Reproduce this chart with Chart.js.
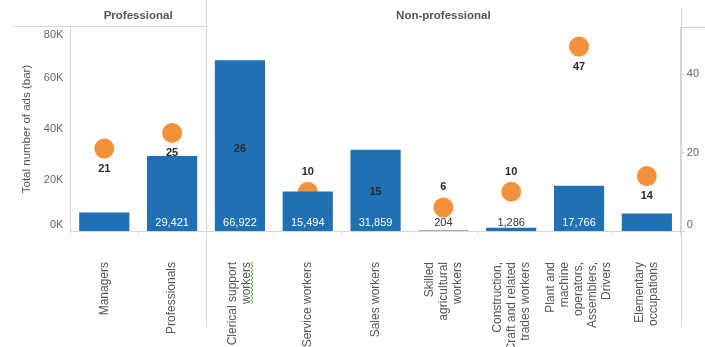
<!DOCTYPE html>
<html>
<head>
<meta charset="utf-8">
<style>
  html, body { margin: 0; padding: 0; background: #fff; }
  #chart { display: block; }
</style>
<script src="https://cdn.jsdelivr.net/npm/chart.js@4.4.0/dist/chart.umd.min.js"></script>
</head>
<body>
<canvas id="chart" width="705" height="347"></canvas>
<script>
// Occupation categories, one array entry per label line
const categories = [
    ['Managers'],
    ['Professionals'],
    ['Clerical support', 'workers'],
    ['Service workers'],
    ['Sales workers'],
    ['Skilled', 'agricultural', 'workers'],
    ['Construction,', 'Craft and related', 'trades workers'],
    ['Plant and', 'machine', 'operators,', 'Assemblers,', 'Drivers'],
    ['Elementary', 'occupations']
];

// Column groups shown in the header
const groupNames = ['Professional', 'Non-professional'];
const groupSizes = [2, 7];

// Total number of ads (bars, left axis)
const adCounts = [7300, 29421, 66922, 15494, 31859, 204, 1286, 17766, 6900];

// Circle values (right axis)
const dotValues = [21, 25, 26, 10, 15, 6, 10, 47, 14];

// Axis ticks
const leftTicks = [0, 20000, 40000, 60000, 80000];
const rightTicks = [0, 20, 40];

const FONT = '"Liberation Sans", Arial, sans-serif';
const BLUE = '#1f70b5';
const ORANGE = '#f5913a';
const LINE = '#d6d6d6';

// Label placement tweaks
const unlabeledBars = [0, 8];
const dotLabelsAbove = [3, 5, 6];

Chart.defaults.font.family = FONT;

function formatCount(v) {
    return new Intl.NumberFormat('en-US').format(v);
}

// Frame lines and group headers
const framePlugin = {
    id: 'frame',
    beforeDraw(chart) {
        const { ctx, chartArea: a, scales: { x } } = chart;
        ctx.save();
        ctx.strokeStyle = LINE;
        ctx.lineWidth = 1;

        let start = 0;
        groupNames.forEach((name, g) => {
            const left = x.getPixelForValue(start - 0.5);
            const right = x.getPixelForValue(start + groupSizes[g] - 0.5);

            ctx.fillStyle = '#555';
            ctx.font = 'bold 11.5px ' + FONT;
            ctx.textAlign = 'center';
            ctx.textBaseline = 'middle';
            ctx.fillText(name, (left + right) / 2, 16);

            if (g < groupNames.length - 1) {
                const sx = Math.round(right) + 0.5;
                ctx.beginPath();
                ctx.moveTo(sx, 0);
                ctx.lineTo(sx, 327);
                ctx.stroke();
            }
            if (g === 0) {
                ctx.beginPath();
                ctx.moveTo(13, 26.5);
                ctx.lineTo(right, 26.5);
                ctx.stroke();
            }
            start += groupSizes[g];
        });

        // right edge of the pane
        const rx = Math.round(a.right) + 0.5;
        ctx.beginPath();
        ctx.moveTo(rx, 8);
        ctx.lineTo(rx, 327);
        ctx.moveTo(rx, 27.5);
        ctx.lineTo(chart.width, 27.5);
        ctx.stroke();
        ctx.restore();
    }
};

// Value labels for bars and circles, axis labels, rotated category labels
const labelPlugin = {
    id: 'labels',
    afterDatasetsDraw(chart) {
        const { ctx, scales: { x, y, y1 } } = chart;
        const base = y.getPixelForValue(0);
        ctx.save();
        ctx.textAlign = 'center';
        ctx.textBaseline = 'middle';

        // bar totals sit at the bottom of each bar
        ctx.font = '11px ' + FONT;
        adCounts.forEach((v, i) => {
            if (unlabeledBars.includes(i)) return;
            const h = base - y.getPixelForValue(v);
            ctx.fillStyle = h > 14 ? '#ffffff' : '#333333';
            ctx.fillText(formatCount(v), x.getPixelForValue(i), base - 8);
        });

        // circle values above or below the mark
        ctx.font = 'bold 11px ' + FONT;
        ctx.fillStyle = '#2a2a2a';
        dotValues.forEach((v, i) => {
            const py = y1.getPixelForValue(v);
            const dy = dotLabelsAbove.includes(i) ? -20 : 20;
            ctx.fillText(String(v), x.getPixelForValue(i), py + dy);
        });
        ctx.restore();
    },
    afterDraw(chart) {
        const { ctx, chartArea: a, scales: { x, y, y1 } } = chart;
        ctx.save();

        // axis tick labels, kept inside the pane at both ends
        ctx.font = '11px ' + FONT;
        ctx.fillStyle = '#666';
        ctx.textBaseline = 'middle';
        const clampY = py => Math.min(Math.max(py, a.top + 8), a.bottom - 6);
        ctx.textAlign = 'right';
        y.ticks.forEach(t => {
            ctx.fillText((t.value / 1000) + 'K', a.left - 7, clampY(y.getPixelForValue(t.value)));
        });
        ctx.textAlign = 'left';
        y1.ticks.forEach(t => {
            ctx.fillText(String(t.value), a.right + 6, clampY(y1.getPixelForValue(t.value)));
        });

        // category labels, read bottom to top
        const top = a.bottom + 31;
        const lineH = 14;
        ctx.font = '12px ' + FONT;
        ctx.fillStyle = '#555';
        ctx.textAlign = 'right';
        chart.data.labels.forEach((lines, i) => {
            ctx.save();
            ctx.translate(x.getPixelForValue(i), top);
            ctx.rotate(-Math.PI / 2);
            lines.forEach((line, j) => {
                const ly = (j - (lines.length - 1) / 2) * lineH;
                ctx.fillText(line, 0, ly);
                // spell-check squiggle under "workers" of the clerical label
                if (i === 2 && j === 1) {
                    const w = ctx.measureText(line).width;
                    ctx.strokeStyle = '#4caf50';
                    ctx.lineWidth = 1;
                    ctx.beginPath();
                    for (let k = 0; k <= w; k += 2) {
                        const sy = ly + 5 + ((k / 2) % 2 ? 1.2 : -1.2);
                        if (k === 0) ctx.moveTo(-w + k, sy);
                        else ctx.lineTo(-w + k, sy);
                    }
                    ctx.stroke();
                }
            });
            ctx.restore();
        });
        ctx.restore();
    }
};

new Chart(document.getElementById('chart'), {
    data: {
        labels: categories,
        datasets: [
            {
                type: 'bar',
                label: 'Total number of ads',
                data: adCounts,
                backgroundColor: BLUE,
                borderWidth: 0,
                barPercentage: 0.74,
                categoryPercentage: 1,
                yAxisID: 'y',
                order: 0
            },
            {
                type: 'line',
                label: 'Value',
                data: dotValues,
                showLine: false,
                pointRadius: 10,
                pointBackgroundColor: ORANGE,
                pointBorderWidth: 0,
                yAxisID: 'y1',
                order: 1
            }
        ]
    },
    options: {
        responsive: false,
        animation: false,
        layout: {
            padding: { top: 27, left: 14, right: 4, bottom: 111 }
        },
        plugins: {
            legend: { display: false },
            tooltip: { enabled: false }
        },
        scales: {
            x: {
                offset: true,
                grid: {
                    offset: true,
                    drawOnChartArea: false,
                    tickLength: 5,
                    color: '#e2e2e2'
                },
                border: { color: LINE },
                ticks: { display: false }
            },
            y: {
                position: 'left',
                min: 0,
                max: 80000,
                afterBuildTicks: axis => {
                    axis.ticks = leftTicks.map(v => ({ value: v }));
                },
                grid: { display: false, drawTicks: false },
                border: { display: true, color: LINE },
                ticks: {
                    color: 'rgba(0,0,0,0)',
                    font: { size: 11 },
                    padding: 7,
                    callback: v => (v / 1000) + 'K'
                },
                title: {
                    display: true,
                    text: 'Total number of ads (bar)',
                    color: '#555',
                    font: { size: 11.5 },
                    padding: { top: 6, bottom: 3 }
                }
            },
            y1: {
                position: 'right',
                min: 0,
                max: 52,
                afterBuildTicks: axis => {
                    axis.ticks = rightTicks.map(v => ({ value: v }));
                },
                grid: {
                    drawOnChartArea: false,
                    tickLength: 4,
                    color: '#cfcfcf'
                },
                border: { display: true, color: LINE },
                ticks: {
                    color: 'rgba(0,0,0,0)',
                    font: { size: 11 },
                    padding: 2
                }
            }
        }
    },
    plugins: [framePlugin, labelPlugin]
});
</script>
</body>
</html>
